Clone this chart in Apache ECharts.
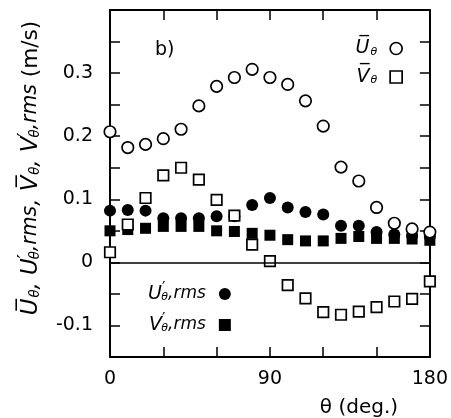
<!DOCTYPE html>
<html>
<head>
<meta charset="utf-8">
<script src="https://cdn.jsdelivr.net/npm/echarts@6/dist/echarts.min.js"></script>
<style>
  html, body { margin: 0; padding: 0; background: #fff; }
  #chart { width: 451px; height: 418px; }
</style>
</head>
<body>
<div id="chart"></div>
<script>
// Angle around the cylinder (deg.) and measured velocity components (m/s)
const theta = [0, 10, 20, 30, 40, 50, 60, 70, 80, 90, 100, 110, 120, 130, 140, 150, 160, 170, 180];
const uMean = [0.207, 0.182, 0.187, 0.196, 0.211, 0.248, 0.279, 0.293, 0.306, 0.293, 0.282, 0.256, 0.216, 0.151, 0.129, 0.087, 0.062, 0.053, 0.048];
const vMean = [0.016, 0.060, 0.102, 0.138, 0.150, 0.131, 0.099, 0.074, 0.028, 0.002, -0.036, -0.057, -0.079, -0.083, -0.078, -0.071, -0.062, -0.058, -0.030];
const uRms = [0.082, 0.083, 0.082, 0.070, 0.070, 0.070, 0.073, 0.073, 0.091, 0.102, 0.087, 0.080, 0.076, 0.058, 0.058, 0.048, 0.044, 0.042, 0.041];
const vRms = [0.050, 0.052, 0.054, 0.057, 0.057, 0.057, 0.050, 0.049, 0.046, 0.043, 0.036, 0.034, 0.034, 0.038, 0.041, 0.038, 0.038, 0.037, 0.035];

// Labelled ticks
const xTickLabels = [0, 90, 180];
const yTickLabels = [-0.1, 0, 0.1, 0.2, 0.3];

const FONT = 'DejaVu Sans';
const OVER = '\u0305'; // combining overline for the mean quantities
const pairs = vals => theta.map((t, i) => [t, vals[i]]);

function richSet(k) {
  return {
    m: { fontFamily: FONT, fontSize: 19 * k, fontStyle: 'italic', color: '#000', lineHeight: 24 * k },
    s: { fontFamily: FONT, fontSize: 11 * k, fontStyle: 'italic', color: '#000', lineHeight: 24 * k, verticalAlign: 'bottom', padding: [0, 0, 3 * k, 1] },
    p: { fontFamily: FONT, fontSize: 15 * k, color: '#000', lineHeight: 24 * k, verticalAlign: 'top', padding: [0, -5 * k, 0, 0] },
    r: { fontFamily: FONT, fontSize: 17 * k, fontStyle: 'italic', color: '#000', lineHeight: 24 * k },
    q: { fontFamily: FONT, fontSize: 18 * k, color: '#000', lineHeight: 24 * k },
    g: { width: 8 }
  };
}
const rich = richSet(1);

const legendText = {
  'Uθ': '{m|U' + OVER + '}{s|θ}{g|}',
  'Vθ': '{m|V' + OVER + '}{s|θ}{g|}',
  "U'θ,rms": '{m|U}{p|′}{s|θ}{r|,rms}{g|}',
  "V'θ,rms": '{m|V}{p|′}{s|θ}{r|,rms}{g|}'
};

const openStyle = { color: '#fff', borderColor: '#000', borderWidth: 1.7, opacity: 1 };
const fillStyle = { color: '#000', borderColor: '#000', borderWidth: 0, opacity: 1 };

const axisCommon = {
  axisLine: { show: true, onZero: false, lineStyle: { color: '#000', width: 2 } },
  axisTick: { show: true, inside: true, length: 10, lineStyle: { color: '#000', width: 1.5 } },
  splitLine: { show: false }
};

const option = {
  backgroundColor: '#fff',
  animation: false,
  grid: { left: 110, right: 18, top: 10, bottom: 61 },
  xAxis: [
    Object.assign({
      type: 'value', min: 0, max: 180, interval: 30, position: 'bottom',
      axisLabel: {
        show: true, margin: 13, color: '#000', fontFamily: FONT, fontSize: 19,
        showMinLabel: true, showMaxLabel: true,
        formatter: v => (xTickLabels.indexOf(Math.round(v)) >= 0 ? String(Math.round(v)) : '')
      }
    }, axisCommon),
    Object.assign({
      type: 'value', min: 0, max: 180, interval: 30, position: 'top',
      axisLabel: { show: false }
    }, axisCommon)
  ],
  yAxis: [
    Object.assign({
      type: 'value', min: -0.15, max: 0.4, interval: 0.05, position: 'left',
      axisLabel: {
        show: true, margin: 17, color: '#000', fontFamily: FONT, fontSize: 19,
        showMinLabel: true, showMaxLabel: true,
        formatter: v => {
          const r = Math.round(v * 100) / 100;
          const hit = yTickLabels.some(t => Math.abs(t - r) < 1e-6);
          if (!hit) return '';
          return r === 0 ? '0' : r.toFixed(1);
        }
      }
    }, axisCommon),
    Object.assign({
      type: 'value', min: -0.15, max: 0.4, interval: 0.05, position: 'right',
      axisLabel: { show: false }
    }, axisCommon)
  ],
  legend: [
    {
      orient: 'vertical', right: 43, top: 34, align: 'right',
      itemWidth: 12, itemHeight: 12, itemGap: 7, selectedMode: false,
      formatter: n => legendText[n], textStyle: { rich: rich },
      data: [
        { name: 'Uθ', icon: 'circle', itemStyle: openStyle },
        { name: 'Vθ', icon: 'rect', itemStyle: openStyle }
      ]
    },
    {
      orient: 'vertical', left: 143, top: 277, align: 'right',
      itemWidth: 12, itemHeight: 12, itemGap: 7, selectedMode: false,
      formatter: n => legendText[n], textStyle: { rich: rich },
      data: [
        { name: "U'θ,rms", icon: 'circle', itemStyle: fillStyle },
        { name: "V'θ,rms", icon: 'rect', itemStyle: fillStyle }
      ]
    }
  ],
  series: [
    {
      name: "V'θ,rms", type: 'scatter', symbol: 'rect', symbolSize: 11,
      itemStyle: fillStyle, data: pairs(vRms),
      markLine: {
        silent: true, symbol: 'none', label: { show: false },
        lineStyle: { color: '#000', width: 1.5, type: 'solid', opacity: 1 },
        data: [{ yAxis: 0 }]
      }
    },
    { name: "U'θ,rms", type: 'scatter', symbol: 'circle', symbolSize: 12, itemStyle: fillStyle, data: pairs(uRms) },
    { name: 'Uθ', type: 'scatter', symbol: 'circle', symbolSize: 11.5, itemStyle: openStyle, data: pairs(uMean) },
    { name: 'Vθ', type: 'scatter', symbol: 'rect', symbolSize: 10.5, itemStyle: openStyle, data: pairs(vMean) }
  ],
  graphic: [
    { type: 'text', x: 155, y: 50, style: { text: 'b)', font: '19px "DejaVu Sans"', fill: '#000', verticalAlign: 'middle' } },
    { type: 'text', x: 359, y: 408, style: { text: 'θ (deg.)', font: '20px "DejaVu Sans"', fill: '#000', align: 'center', verticalAlign: 'middle' } },
    {
      type: 'text', x: 31, y: 168, rotation: Math.PI / 2,
      style: {
        text: '{m|U' + OVER + '}{s|θ}{m|, U}{p|′}{s|θ}{r|,rms}{m|, V' + OVER + '}{s|θ}{m|, V}{p|′}{s|θ}{r|,rms}{q| (m/s)}',
        rich: richSet(1.2),
        align: 'center', verticalAlign: 'middle'
      }
    }
  ]
};

const chart = echarts.init(document.getElementById('chart'), null, { renderer: 'canvas' });
chart.setOption(option);
</script>
</body>
</html>
